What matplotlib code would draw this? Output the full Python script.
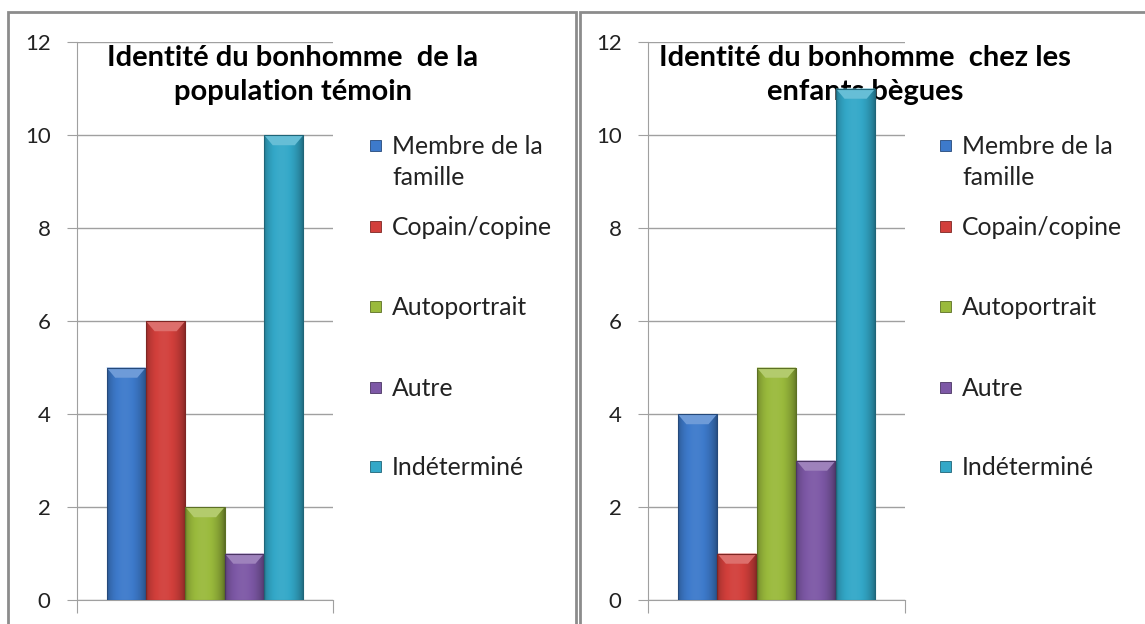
import matplotlib
matplotlib.use("Agg")
import matplotlib.pyplot as plt
import numpy as np
from matplotlib.patches import Rectangle
from matplotlib.colors import to_rgb

plt.rcParams['font.family'] = ['Lato', 'DejaVu Sans']

# Data
categories = ["Membre de la\nfamille", "Copain/copine", "Autoportrait", "Autre", "Indéterminé"]
temoin = [5, 6, 2, 1, 10]
begues = [4, 1, 5, 3, 11]
colors = ["#3d7acb", "#d23f3b", "#9aba3c", "#7d58a6", "#33a8c8"]
titles = ["Identité du bonhomme  de la\npopulation témoin",
          "Identité du bonhomme  chez les\nenfants bègues"]

W, H = 1145, 624
fig = plt.figure(figsize=(W / 100, H / 100), dpi=100)


def fx(px):
    return px / W


def fy(py):
    return 1 - py / H


def shade(c, f):
    r = np.array(to_rgb(c))
    if f < 1:
        return r * f
    return r + (1 - r) * (f - 1)


def gradient_bars(ax, values):
    bars = ax.bar(range(len(values)), values, width=1.0, color=colors,
                  edgecolor="none", zorder=3)
    for b, c in zip(bars, colors):
        x0, y0 = b.get_x(), b.get_y()
        w, h = b.get_width(), b.get_height()
        t = np.linspace(0, 1, 64)
        prof = 0.70 + 0.40 * np.sin(np.pi * t) ** 0.6 - 0.12 * t
        img = np.array([[shade(c, p) for p in prof]])
        im = ax.imshow(img, extent=(x0, x0 + w, y0, y0 + h), aspect="auto",
                       interpolation="bicubic", zorder=3)
        im.set_clip_path(b)
        # top bevel
        bev = 0.22
        ax.fill([x0, x0 + w, x0 + w * 0.78, x0 + w * 0.22],
                [y0 + h, y0 + h, y0 + h - bev, y0 + h - bev],
                color=shade(c, 1.25), zorder=4, lw=0)
        ax.add_patch(Rectangle((x0, y0), w, h, fill=False,
                               edgecolor=shade(c, 0.6), lw=0.8, zorder=5))


panels = [
    (temoin, 77, 333, 370, titles[0], 293),
    (begues, 648, 905, 940, titles[1], 865),
]

for vals, axl, axr, legx, title, tcx in panels:
    ax = fig.add_axes([fx(axl), fy(600), fx(axr - axl), fy(42) - fy(600)])
    gradient_bars(ax, vals)
    ax.set_xlim(-1.25, 5.25)
    ax.set_ylim(0, 12)
    ax.set_yticks(range(0, 13, 2))
    ax.yaxis.grid(True, color="#a0a0a0", lw=1)
    ax.set_axisbelow(True)
    ax.set_xticks([-1.25, 5.25])
    ax.set_xticklabels([])
    ax.tick_params(axis="x", length=9, color="#a0a0a0", direction="out")
    ax.tick_params(axis="y", length=7, color="#a0a0a0", labelsize=16,
                   labelcolor="#222222", pad=12)
    for s in ["top", "right"]:
        ax.spines[s].set_visible(False)
    ax.spines["left"].set_color("#a0a0a0")
    ax.spines["bottom"].set_color("#a0a0a0")
    ax.text(fx(tcx), fy(75), title, transform=fig.transFigure, ha="center",
            va="center", fontsize=21, fontweight="bold", linespacing=1.38,
            zorder=2)

    # legend
    ys = [145, 226, 306, 387, 466]
    for cat, c, yy in zip(categories, colors, ys):
        fig.patches.append(Rectangle((fx(legx), fy(yy + 6)), fx(11), 11 / H,
                                     transform=fig.transFigure,
                                     facecolor=c, edgecolor=shade(c, 0.6),
                                     lw=0.6))
        fig.text(fx(legx + 22), fy(yy - 10), cat, ha="left", va="top",
                 fontsize=17.8, color="#222222", linespacing=1.4,
                 transform=fig.transFigure)

# panel borders
fig.patches.append(Rectangle((fx(8), -0.1), fx(568), fy(12) + 0.1,
                             transform=fig.transFigure, fill=False,
                             edgecolor="#8c8c8c", lw=2))
fig.patches.append(Rectangle((fx(580), -0.1), fx(600), fy(12) + 0.1,
                             transform=fig.transFigure, fill=False,
                             edgecolor="#8c8c8c", lw=2))

fig.savefig("out.png", dpi=100)
